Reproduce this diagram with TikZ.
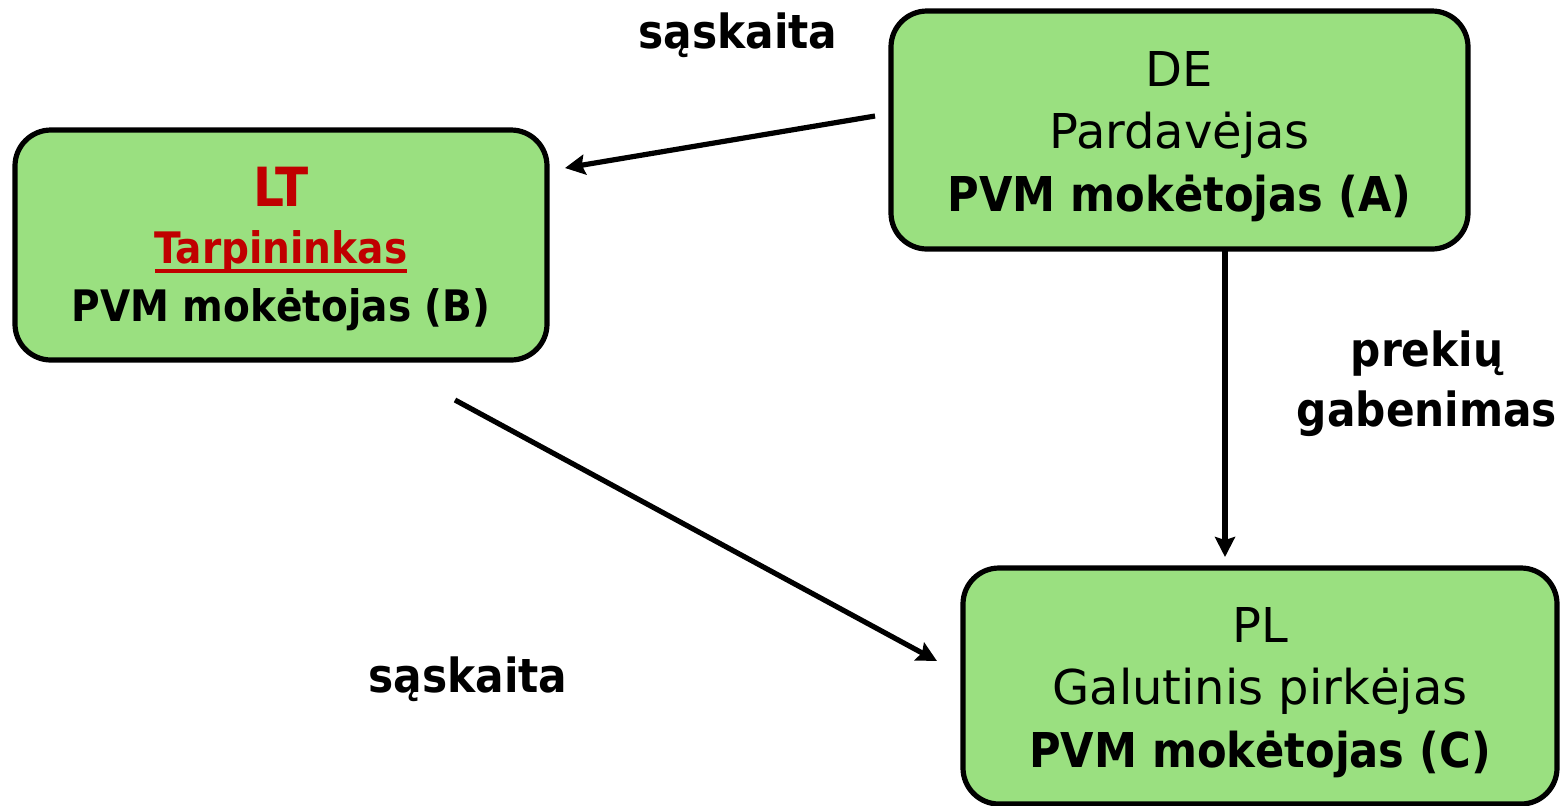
\documentclass[tikz,border=0pt]{standalone}
\usepackage{fontspec}
\setmainfont{DejaVu Sans}[BoldFont={DejaVu Sans Condensed Bold}]
\usetikzlibrary{arrows.meta}
\definecolor{boxgreen}{RGB}{154,224,128}
\definecolor{ltred}{RGB}{192,0,0}
\newcommand\thul[1]{\setbox0\hbox{#1}\rlap{\rule[-4.6pt]{\wd0}{1.9pt}}\box0}
\newcommand\lowered[2]{\raisebox{-#1}[\height][\depth]{\begin{tabular}{@{}c@{}}#2\end{tabular}}}
\begin{document}
\begin{tikzpicture}[x=0.5pt,y=-0.5pt,
  party/.style={draw=black,line width=2.6pt,fill=boxgreen,rounded corners=18pt,
    inner sep=0pt,align=center,font=\fontsize{24}{31.25}\selectfont},
  lbl/.style={font=\fontsize{23.5}{30}\selectfont\bfseries,align=center,inner sep=0pt},
  arr/.style={line width=2.6pt,-{Stealth[length=10pt,width=10pt,inset=1.5pt]}}]
\useasboundingbox (0,0) rectangle (1563,805);
\node[party,minimum width=288.5pt,minimum height=119pt] (A) at (1179.5,130)
  {\lowered{3pt}{DE\\Pardavėjas\\\textbf{PVM mokėtojas (A)}}};
\node[party,minimum width=266pt,minimum height=115pt,font=\fontsize{21.7}{28.75}\selectfont] (B) at (281,245)
  {\lowered{3.5pt}{\textcolor{ltred}{\fontsize{27}{28.75}\selectfont\textbf{LT}}\\\textcolor{ltred}{\textbf{\thul{Tarpininkas}}}\\\textbf{PVM mokėtojas (B)}}};
\node[party,minimum width=297pt,minimum height=118pt] (C) at (1260,686)
  {\lowered{3pt}{PL\\Galutinis pirkėjas\\\textbf{PVM mokėtojas (C)}}};
\node[lbl] (s1) at (738,35) {sąskaita};
\node[lbl] (s2) at (468,679) {sąskaita};
\node[lbl] (pg) at (1427,384) {prekių\\gabenimas};
\coordinate (a1) at (875,116);
\coordinate (b1) at (565,168);
\coordinate (b2) at (455,400);
\coordinate (c2) at (937,661);
\coordinate (a3) at (1225,250);
\coordinate (c3) at (1225,557);
\draw[arr] (a1) -- (b1);
\draw[arr] (b2) -- (c2);
\draw[arr] (a3) -- (c3);
\end{tikzpicture}
\end{document}
